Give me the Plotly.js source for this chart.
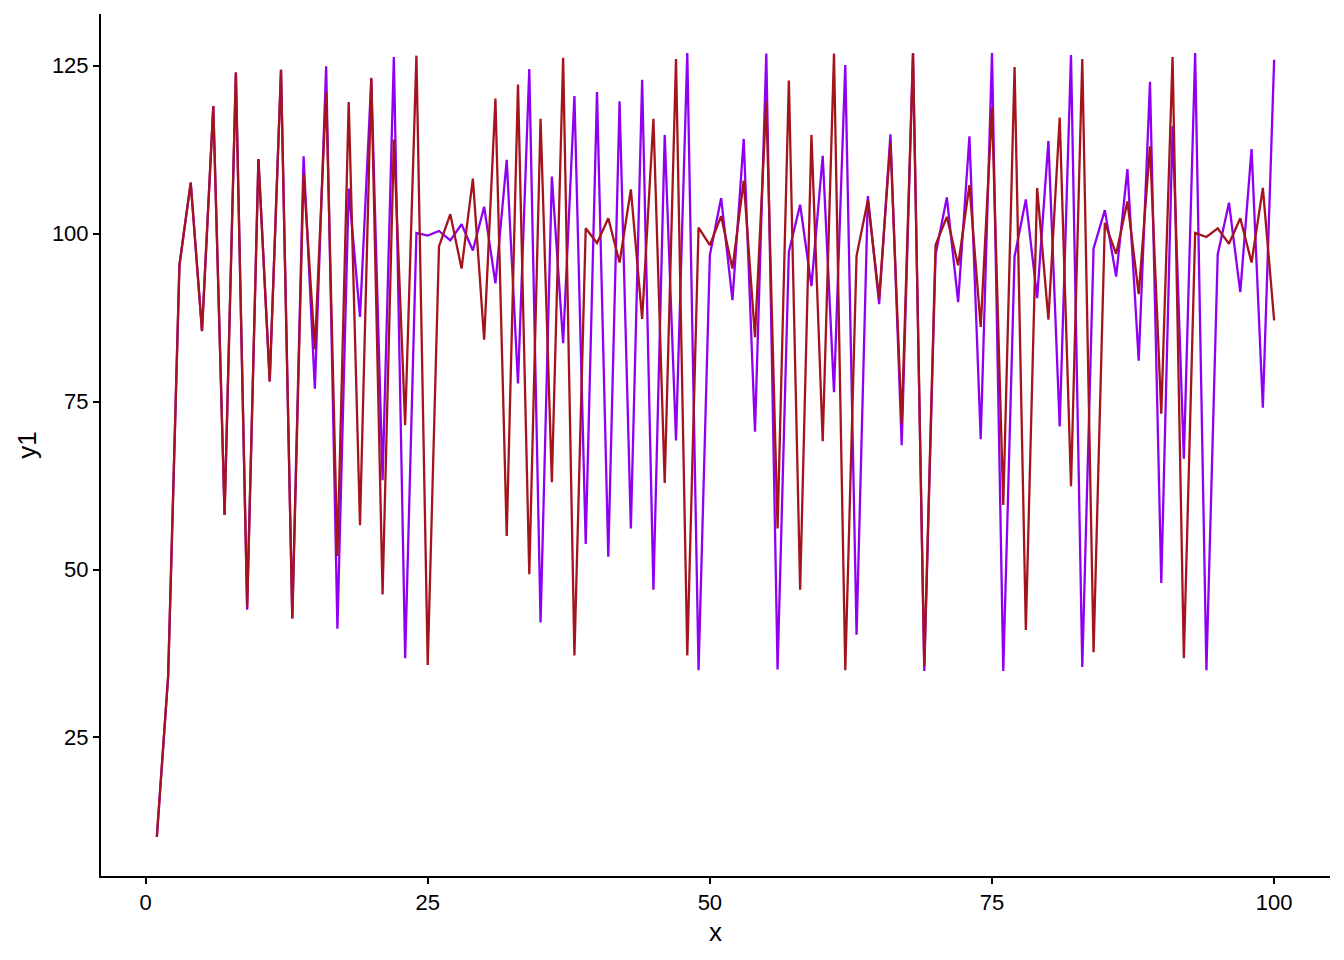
<!DOCTYPE html>
<html>
<head>
<meta charset="utf-8">
<script src="https://cdn.plot.ly/plotly-3.0.1.min.js"></script>
<style>
  html, body { margin: 0; padding: 0; background: #fff; }
  #chart { width: 1344px; height: 960px; }
</style>
</head>
<body>
<div id="chart"></div>
<script>
// x positions 1..100
const x = [];
for (let i = 1; i <= 100; i++) x.push(i);

// purple series
const y1 = [
  10.2, 34.1, 95.3, 107.6, 85.5, 119.0, 58.1, 124.0, 44.0, 111.1,
  78.0, 124.4, 42.7, 111.5, 76.9, 124.9, 41.2, 106.7, 87.6, 123.0,
  63.3, 126.3, 36.8, 100.1, 99.7, 100.4, 99.0, 101.4, 97.5, 104.0,
  92.6, 111.0, 77.7, 124.5, 42.1, 108.5, 83.7, 120.5, 53.8, 121.1,
  51.9, 119.7, 56.1, 122.9, 47.0, 114.7, 69.2, 126.9, 35.0, 96.8,
  105.3, 90.1, 114.1, 70.5, 126.8, 35.1, 97.3, 104.3, 92.2, 111.6,
  76.4, 125.1, 40.3, 105.6, 89.5, 114.8, 68.5, 126.9, 34.9, 96.9,
  105.4, 89.8, 114.5, 69.4, 126.9, 34.9, 96.6, 105.1, 90.4, 113.8,
  71.3, 126.6, 35.5, 97.8, 103.5, 93.6, 109.6, 81.1, 122.6, 48.0,
  116.0, 66.5, 126.9, 35.0, 96.9, 104.6, 91.3, 112.6, 74.1, 125.9
];

// dark red series
const y2 = [
  10.2, 34.1, 95.3, 107.6, 85.5, 119.0, 58.1, 124.0, 44.4, 111.1,
  78.0, 124.4, 42.7, 108.9, 82.8, 121.1, 52.0, 119.6, 56.6, 123.2,
  46.3, 114.0, 71.5, 126.5, 35.8, 98.1, 102.9, 94.8, 108.2, 84.2,
  120.1, 55.0, 122.2, 49.3, 117.1, 63.0, 126.2, 37.2, 100.8, 98.6,
  102.3, 95.7, 106.6, 87.3, 117.1, 62.9, 126.0, 37.2, 100.9, 98.3,
  102.6, 94.8, 107.9, 84.6, 119.7, 56.1, 122.8, 47.0, 114.7, 69.1,
  126.8, 35.0, 96.7, 105.0, 90.4, 113.6, 71.7, 126.8, 35.6, 98.3,
  102.5, 95.3, 107.2, 86.1, 118.8, 59.6, 124.8, 41.0, 106.8, 87.2,
  117.3, 62.4, 126.0, 37.7, 101.6, 97.0, 104.8, 91.0, 113.0, 73.2,
  126.3, 36.8, 100.1, 99.5, 100.8, 98.5, 102.3, 95.7, 106.8, 87.1
];

const xTicks = [0, 25, 50, 75, 100];
const yTicks = [25, 50, 75, 100, 125];

const font = 'Liberation Sans, Arial, Helvetica, sans-serif';

const data = [
  {
    type: 'scatter',
    mode: 'lines',
    x: x,
    y: y1,
    name: 'y1',
    line: { color: '#9000F0', width: 2.3 },
    showlegend: false
  },
  {
    type: 'scatter',
    mode: 'lines',
    x: x,
    y: y2,
    name: 'y2',
    line: { color: '#A3141C', width: 2.3 },
    showlegend: false
  }
];

const layout = {
  width: 1344,
  height: 960,
  paper_bgcolor: '#ffffff',
  plot_bgcolor: '#ffffff',
  margin: { l: 101, r: 14, t: 14, b: 84 },
  font: { family: font, color: '#000000' },
  xaxis: {
    range: [-3.95, 104.95],
    tickvals: xTicks,
    ticktext: xTicks.map(String),
    ticks: 'outside',
    ticklen: 6,
    tickwidth: 2,
    tickcolor: '#000000',
    tickfont: { size: 22, color: '#000000' },
    showline: true,
    linecolor: '#000000',
    linewidth: 2,
    showgrid: false,
    zeroline: false,
    title: { text: 'x', font: { size: 26, color: '#000000' }, standoff: 8 }
  },
  yaxis: {
    range: [4.37, 132.7],
    tickvals: yTicks,
    ticktext: yTicks.map(String),
    ticks: 'outside',
    ticklen: 6,
    tickwidth: 2,
    tickcolor: '#000000',
    tickfont: { size: 22, color: '#000000' },
    showline: true,
    linecolor: '#000000',
    linewidth: 2,
    showgrid: false,
    zeroline: false,
    title: { text: 'y1', font: { size: 26, color: '#000000' }, standoff: 8 }
  }
};

Plotly.newPlot('chart', data, layout, { staticPlot: true, displayModeBar: false });
</script>
</body>
</html>
